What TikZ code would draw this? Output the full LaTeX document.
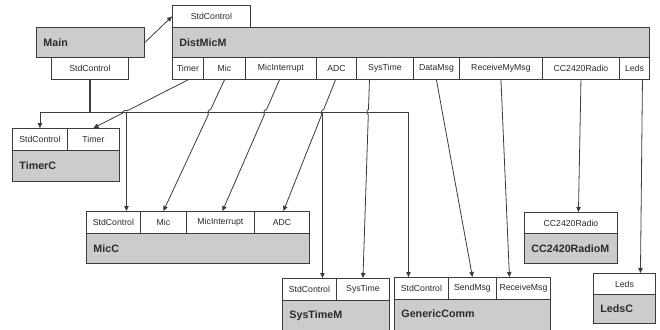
\documentclass[tikz,border=0pt]{standalone}
\usepackage{fontspec}
\setmainfont{Liberation Sans}
\usetikzlibrary{arrows.meta,calc,intersections}
\definecolor{boxfill}{HTML}{CCCCCC}
\definecolor{edge}{HTML}{3C3C3C}
\definecolor{txt}{HTML}{2A2A2A}
\tikzset{
  port/.style={draw=edge, line width=0.9pt, fill=white, anchor=north west, inner sep=0pt,
    minimum height=22pt, font=\fontsize{8.7}{10}\selectfont, text=txt},
  body/.style={draw=edge, line width=0.9pt, fill=boxfill, anchor=north west, inner xsep=7pt,
    inner ysep=0pt, align=left, font=\fontsize{10.7}{12}\bfseries\selectfont, text=txt},
  conn/.style={draw=edge, line width=0.8pt},
  arr/.style={conn, -{Triangle[length=5pt,width=4.5pt]}},
}
\newcommand\mkport[5]{\node[port, minimum width=#4pt] (#1) at (#2,#3) {#5};}
\newcommand\mkbody[7]{\node[body, text width=#4pt, minimum height=#5pt, #6] (#1) at (#2,#3) {#7};}
\begin{document}
\begin{tikzpicture}[x=1pt,y=-1pt]
\useasboundingbox (0,0) rectangle (660,329);
\clip (0,0) rectangle (660,329);
% Main
\mkbody{main}{36}{27}{94}{30}{}{Main}
\mkport{msc}{51}{57}{77}{StdControl}
% DistMicM
\mkport{dsc}{172}{5}{78}{StdControl}
\mkbody{dist}{172}{27}{463}{30}{}{DistMicM}
\mkport{dtimer}{172}{57}{31}{Timer}
\mkport{dmic}{203}{57}{42}{Mic}
\mkport{dmi}{245}{57}{71}{MicInterrupt}
\mkport{dadc}{316}{57}{40}{ADC}
\mkport{dst}{356}{57}{57}{SysTime}
\mkport{ddm}{413}{57}{46}{DataMsg}
\mkport{drm}{459}{57}{83}{ReceiveMyMsg}
\mkport{dcc}{542}{57}{77}{CC2420Radio}
\mkport{dleds}{619}{57}{30}{Leds}
% TimerC
\mkport{tsc}{12}{128}{55}{StdControl}
\mkport{tt}{67}{128}{52}{Timer}
\mkbody{timerc}{12}{150}{93}{31}{}{TimerC}
% MicC
\mkport{mcsc}{86}{211}{54}{StdControl}
\mkport{mcmic}{140}{211}{46}{Mic}
\mkport{mcmi}{186}{211}{68}{MicInterrupt}
\mkport{mcadc}{254}{211}{55}{ADC}
\mkbody{micc}{86}{233}{209}{30}{}{MicC}
% SysTimeM
\mkport{stsc}{282}{278}{54}{StdControl}
\mkport{stst}{336}{278}{53}{SysTime}
\mkbody{systime}{282}{300}{93}{40}{text height=8pt, text depth=12pt}{SysTimeM}
% GenericComm
\mkport{gsc}{394}{277}{54}{StdControl}
\mkport{gsm}{448}{277}{48}{SendMsg}
\mkport{grm}{496}{277}{54}{ReceiveMsg}
\mkbody{generic}{394}{299}{142}{40}{text height=8pt, text depth=12pt}{GenericComm}
% CC2420RadioM
\mkport{crp}{524}{212}{93}{CC2420Radio}
\mkbody{radio}{524}{233}{79}{30}{}{CC2420RadioM}
% LedsC
\mkport{lp}{593}{273}{62}{Leds}
\mkbody{leds}{593}{294}{48}{29}{}{LedsC}

% Main -> DistMicM
\draw[arr] (main.east) -- (dsc.west);
% StdControl bus
\coordinate (j) at (msc.south |- 0,112);
\coordinate (hl) at (0,112);
\coordinate (hr) at (660,112);
\draw[conn, line width=1.8pt] (msc.south) -- (j);
\draw[arr] (j) -| (tsc.north);
\draw[arr] (j) -| ([xshift=13pt]mcsc.north);
\draw[arr] (j) -| ([xshift=13pt]stsc.north);
\draw[arr] (j) -| ([xshift=-13pt]gsc.north);

% lines with jumps over the bus
\coordinate (a1) at (dtimer.south);        \coordinate (b1) at (tt.north);
\coordinate (a2) at (dmic.south);          \coordinate (b2) at (mcmic.north);
\coordinate (a3) at ([xshift=-1.5pt]dmi.south); \coordinate (b3) at ([xshift=2pt]mcmi.north);
\coordinate (a4) at ([xshift=-1pt]dadc.south);  \coordinate (b4) at ([xshift=1.5pt]mcadc.north);
\coordinate (a5) at ([xshift=-15.5pt]dst.south); \coordinate (b5) at (stst.north);
\path[name path=hbus] (hl) -- (hr);
\foreach \i in {1,...,5}{
  \path[name path=cur] (a\i) -- (b\i);
  \path[name intersections={of=cur and hbus, by=xx}];
  \draw[arr] (a\i) -- ($(xx)!2.5pt!(a\i)$) to[bend right=90] ($(xx)!2.5pt!(b\i)$) -- (b\i);
}
% other lines
\draw[arr] (ddm.south) -- (gsm.north);
\draw[arr] (drm.south) -- ([xshift=-14pt]grm.north);
\draw[arr] (dcc.south) -- ([xshift=7.5pt]crp.north);
\draw[arr] ([xshift=8pt]dleds.south) -- ([xshift=16pt]lp.north);
\end{tikzpicture}
\end{document}
